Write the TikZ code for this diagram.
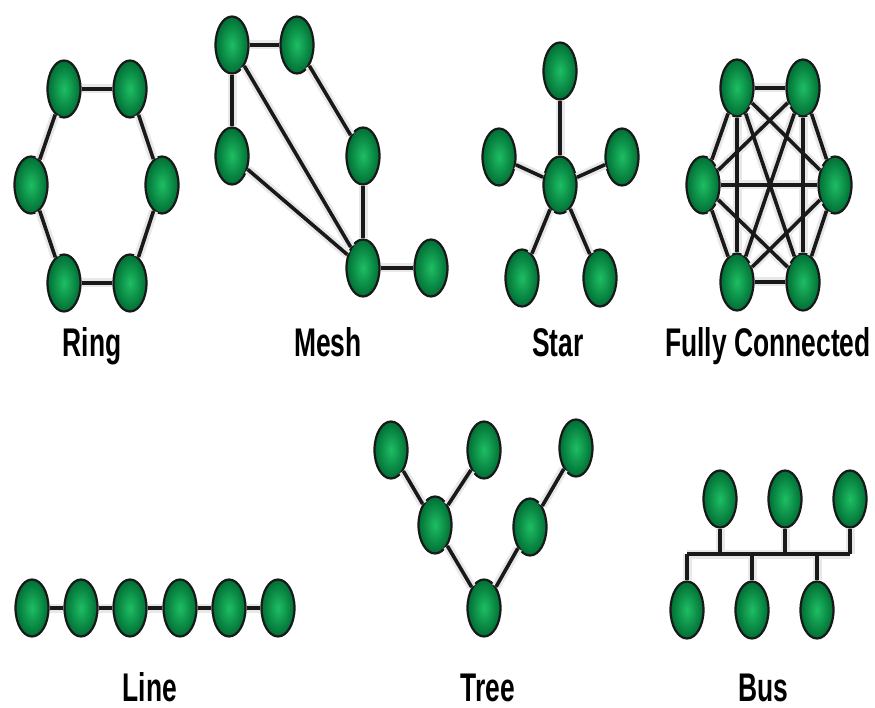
\documentclass[tikz,border=0pt]{standalone}
\usepackage{fontspec}
\newfontfamily\lblfont[FakeStretch=0.66]{Liberation Sans Bold}
\usetikzlibrary{shapes.geometric}
\definecolor{hosthi}{RGB}{30,190,100}
\definecolor{hostlo}{RGB}{0,110,52}

\begin{document}
\begin{tikzpicture}[x=1pt,y=-1pt,
  host/.style={ellipse,minimum width=33pt,minimum height=57pt,inner sep=0pt,
    draw=black!90,line width=2.2pt,inner color=hosthi,outer color=hostlo},
  glow/.style={line width=9pt,black!9},
  link/.style={line width=3.6pt,black!90},
  lbl/.style={font=\lblfont\fontsize{40}{42}\selectfont,anchor=base}]
\fill[white] (0,0) rectangle (875,708);
\useasboundingbox (0,0) rectangle (875,708);
% ring
\foreach \n/\x/\y in {r1/64/89,r2/130/89,r3/162/185,r4/130/283,r5/64/283,r6/31/185}
  \node[host] (\n) at (\x,\y) {};
\foreach \s in {glow,link}
  \foreach \a/\b in {r1/r2,r2/r3,r3/r4,r4/r5,r5/r6,r6/r1}
    \draw[\s] (\a) -- (\b);
\node[lbl] (ringlbl) at (92,356) {Ring};
% mesh
\foreach \n/\x/\y in {m1/232/45,m2/297/45,m3/232/156,m4/363/156,m5/363/268,m6/431/268}
  \node[host] (\n) at (\x,\y) {};
\foreach \s in {glow,link}
  \foreach \a/\b in {m1/m2,m1/m3,m1/m5,m3/m5,m2/m4,m4/m5,m5/m6}
    \draw[\s] (\a) -- (\b);
\node[lbl] (meshlbl) at (328,356) {Mesh};
% star
\foreach \n/\x/\y in {s0/560/185,s1/560/71,s2/499/157,s3/622/157,s4/522/278,s5/600/278}
  \node[host] (\n) at (\x,\y) {};
\foreach \s in {glow,link}
  \foreach \i in {1,...,5}
    \draw[\s] (s0) -- (s\i);
\node[lbl] (starlbl) at (558,356) {Star};
% fully connected
\foreach \n/\x/\y in {f1/737/88,f2/803/88,f3/835/185,f4/803/282,f5/737/282,f6/703/185}
  \node[host] (\n) at (\x,\y) {};
\foreach \s in {glow,link}
  \foreach \i [evaluate=\i as \k using int(\i+1)] in {1,...,5}
    \foreach \j in {\k,...,6}
      \draw[\s] (f\i) -- (f\j);
\node[lbl] (fulllbl) at (768,356) {Fully Connected};
% line
\foreach \i/\x in {1/32,2/81,3/130,4/180,5/229,6/278}
  \node[host] (l\i) at (\x,608) {};
\foreach \s in {glow,link}
  \foreach \a/\b in {l1/l2,l2/l3,l3/l4,l4/l5,l5/l6}
    \draw[\s] (\a) -- (\b);
\node[lbl] (linelbl) at (150,701) {Line};
% tree
\foreach \n/\x/\y in {t1/391/450,t2/484/450,t3/576/448,t4/435/525,t5/530/527,t6/484/608}
  \node[host] (\n) at (\x,\y) {};
\foreach \s in {glow,link}
  \foreach \a/\b in {t1/t4,t2/t4,t4/t6,t6/t5,t5/t3}
    \draw[\s] (\a) -- (\b);
\node[lbl] (treelbl) at (488,701) {Tree};
% bus
\foreach \n/\x/\y in {b1/720/499,b2/785/499,b3/850/499,b4/687/610,b5/752/610,b6/817/610}
  \node[host] (\n) at (\x,\y) {};
\coordinate (bus) at (0,554);
\foreach \s in {glow,link}{
  \draw[\s] (b4 |- bus) -- (b3 |- bus);
  \foreach \n in {b1,b2,b3,b4,b5,b6}
    \draw[\s] (\n) -- (\n |- bus);
}
\node[lbl] (buslbl) at (763,701) {Bus};
\end{tikzpicture}
\end{document}
